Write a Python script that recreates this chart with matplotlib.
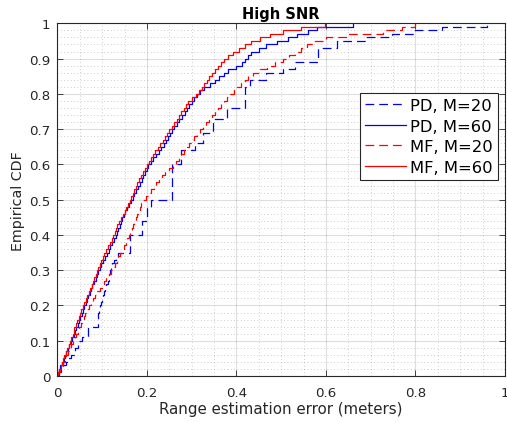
import numpy as np
import matplotlib
matplotlib.use("Agg")
import matplotlib.pyplot as plt
from matplotlib.ticker import MultipleLocator, FuncFormatter

# sorted range errors (meters), 100 trials per method
pd_m20 = [
    0.003, 0.008, 0.012, 0.018, 0.024, 0.030, 0.036, 0.040, 0.045, 0.045,
    0.054, 0.069, 0.069, 0.069, 0.090, 0.090, 0.090, 0.090, 0.092, 0.095,
    0.097, 0.099, 0.101, 0.103, 0.106, 0.109, 0.112, 0.114, 0.116, 0.117,
    0.119, 0.122, 0.126, 0.130, 0.136, 0.162, 0.162, 0.162, 0.162, 0.162,
    0.188, 0.188, 0.188, 0.188, 0.199, 0.199, 0.199, 0.199, 0.210, 0.210,
    0.257, 0.257, 0.257, 0.257, 0.257, 0.257, 0.257, 0.257, 0.257, 0.257,
    0.277, 0.277, 0.277, 0.277, 0.307, 0.307, 0.326, 0.326, 0.326, 0.348,
    0.348, 0.348, 0.348, 0.378, 0.378, 0.378, 0.419, 0.419, 0.419, 0.419,
    0.419, 0.419, 0.430, 0.430, 0.465, 0.465, 0.505, 0.530, 0.530, 0.582,
    0.582, 0.582, 0.582, 0.624, 0.624, 0.690, 0.747, 0.800, 0.860, 0.960,
]
pd_m60 = [
    0.001, 0.003, 0.006, 0.010, 0.014, 0.017, 0.020, 0.023, 0.026, 0.030,
    0.033, 0.036, 0.039, 0.042, 0.045, 0.048, 0.051, 0.054, 0.057, 0.060,
    0.063, 0.066, 0.069, 0.072, 0.075, 0.078, 0.082, 0.085, 0.088, 0.091,
    0.094, 0.098, 0.102, 0.106, 0.110, 0.114, 0.118, 0.122, 0.126, 0.130,
    0.133, 0.136, 0.139, 0.142, 0.145, 0.148, 0.151, 0.155, 0.159, 0.164,
    0.168, 0.172, 0.176, 0.180, 0.184, 0.188, 0.192, 0.196, 0.199, 0.202,
    0.208, 0.214, 0.220, 0.226, 0.232, 0.238, 0.243, 0.248, 0.252, 0.256,
    0.261, 0.266, 0.272, 0.278, 0.284, 0.290, 0.295, 0.300, 0.305, 0.312,
    0.318, 0.328, 0.340, 0.352, 0.362, 0.372, 0.382, 0.400, 0.412, 0.420,
    0.426, 0.432, 0.450, 0.467, 0.490, 0.515, 0.535, 0.560, 0.580, 0.660,
]
mf_m20 = [
    0.002, 0.005, 0.008, 0.012, 0.016, 0.020, 0.024, 0.028, 0.031, 0.035,
    0.039, 0.042, 0.046, 0.049, 0.052, 0.055, 0.059, 0.062, 0.066, 0.070,
    0.075, 0.080, 0.084, 0.089, 0.094, 0.099, 0.104, 0.109, 0.114, 0.120,
    0.124, 0.128, 0.132, 0.136, 0.140, 0.144, 0.148, 0.152, 0.156, 0.160,
    0.163, 0.166, 0.169, 0.172, 0.175, 0.178, 0.181, 0.184, 0.187, 0.191,
    0.197, 0.203, 0.209, 0.215, 0.221, 0.227, 0.234, 0.241, 0.249, 0.259,
    0.265, 0.271, 0.277, 0.283, 0.289, 0.294, 0.300, 0.306, 0.312, 0.318,
    0.325, 0.332, 0.339, 0.346, 0.353, 0.359, 0.365, 0.371, 0.378, 0.385,
    0.394, 0.402, 0.410, 0.418, 0.426, 0.436, 0.452, 0.468, 0.486, 0.505,
    0.518, 0.531, 0.545, 0.558, 0.571, 0.600, 0.650, 0.728, 0.770, 0.800,
]
mf_m60 = [
    0.002, 0.004, 0.007, 0.010, 0.012, 0.015, 0.018, 0.021, 0.025, 0.028,
    0.031, 0.034, 0.036, 0.038, 0.041, 0.044, 0.047, 0.050, 0.053, 0.057,
    0.060, 0.063, 0.066, 0.070, 0.073, 0.076, 0.079, 0.082, 0.085, 0.088,
    0.091, 0.094, 0.098, 0.102, 0.105, 0.109, 0.113, 0.117, 0.121, 0.124,
    0.128, 0.131, 0.134, 0.138, 0.142, 0.146, 0.150, 0.153, 0.157, 0.162,
    0.165, 0.168, 0.172, 0.175, 0.178, 0.182, 0.186, 0.190, 0.195, 0.199,
    0.204, 0.208, 0.214, 0.219, 0.224, 0.230, 0.235, 0.240, 0.245, 0.250,
    0.255, 0.260, 0.266, 0.272, 0.277, 0.282, 0.287, 0.292, 0.300, 0.310,
    0.316, 0.322, 0.327, 0.333, 0.339, 0.345, 0.351, 0.358, 0.365, 0.372,
    0.382, 0.392, 0.405, 0.418, 0.432, 0.452, 0.475, 0.505, 0.545, 0.598,
]

series = [
    ("PD, M=20", pd_m20, "#0000ff", True),
    ("PD, M=60", pd_m60, "#0000ff", False),
    ("MF, M=20", mf_m20, "#ff0000", True),
    ("MF, M=60", mf_m60, "#ff0000", False),
]

DARK = "#262626"


def ecdf(vals):
    v = np.sort(np.asarray(vals, dtype=float))
    n = len(v)
    xs = np.concatenate([[v[0]], v])
    ys = np.concatenate([[0.0], np.arange(1, n + 1) / n])
    return xs, ys


fig = plt.figure(figsize=(5.07, 4.27), dpi=100, facecolor="white")
ax = fig.add_axes([0.1134, 0.1171, 0.8826, 0.826])

for label, vals, color, dashed in series:
    xs, ys = ecdf(vals)
    kw = dict(dashes=(7, 4)) if dashed else {}
    ax.step(xs, ys, where="post", color=color, lw=0.9, label=label, **kw)

ax.set_xlim(0, 1)
ax.set_ylim(0, 1)
ax.xaxis.set_major_locator(MultipleLocator(0.2))
ax.xaxis.set_minor_locator(MultipleLocator(0.05))
ax.yaxis.set_major_locator(MultipleLocator(0.1))
ax.yaxis.set_minor_locator(MultipleLocator(0.02))
fmt = FuncFormatter(lambda v, pos: f"{v:g}")
ax.xaxis.set_major_formatter(fmt)
ax.yaxis.set_major_formatter(fmt)

# matlab-ish grid
ax.grid(which="major", color=DARK, alpha=0.15, lw=0.8)
ax.grid(which="minor", color=DARK, alpha=0.3, lw=0.6, linestyle=(0, (1, 3)))
ax.set_axisbelow(True)

ax.tick_params(which="both", direction="in", top=True, right=True,
               colors=DARK, labelsize=9.6, width=0.6)
ax.tick_params(which="major", length=4.5)
ax.tick_params(axis="x", which="major", pad=7)
ax.tick_params(axis="y", which="major", pad=5)
ax.tick_params(which="minor", length=0)
for s in ax.spines.values():
    s.set_color(DARK)
    s.set_linewidth(0.8)

ax.set_xlabel("Range estimation error (meters)", fontsize=10.8, color=DARK, labelpad=2)
ax.set_ylabel("Empirical CDF", fontsize=10.3, color=DARK, labelpad=3)
ax.set_title("High SNR", fontsize=10.5, fontweight="bold", color="black", pad=4)

leg = ax.legend(loc="upper right", bbox_to_anchor=(0.984, 0.802), fontsize=11.8,
                frameon=True, fancybox=False, edgecolor=DARK, framealpha=1,
                handlelength=2.5, handletextpad=0.25, borderpad=0.3,
                labelspacing=0.34, borderaxespad=0)
leg.get_frame().set_linewidth(0.8)

fig.savefig("out.png", dpi=100, facecolor="white")
